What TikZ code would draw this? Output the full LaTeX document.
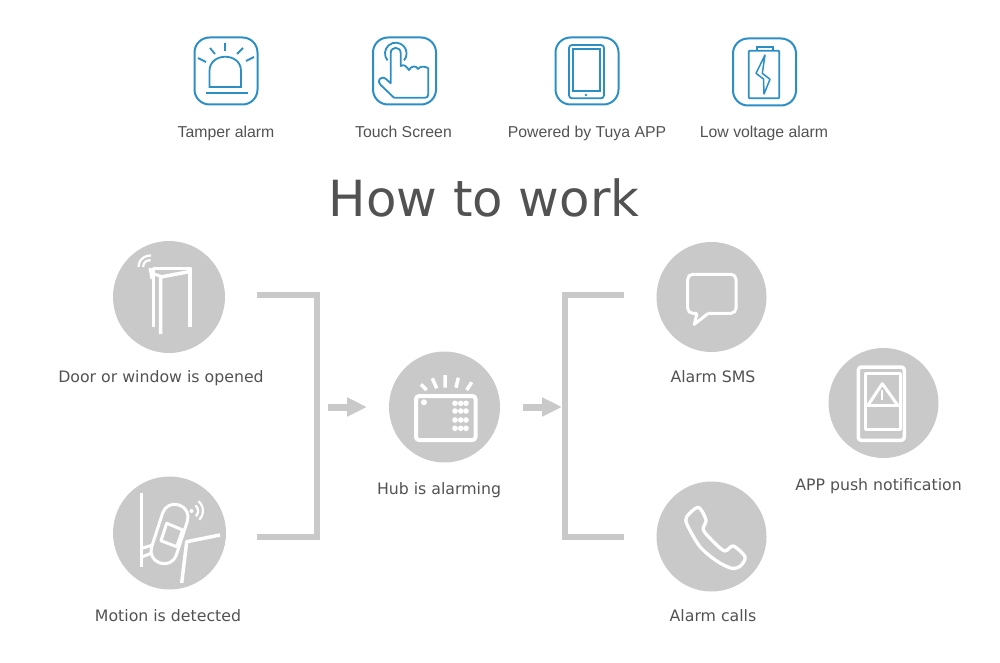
\documentclass[tikz,border=0pt]{standalone}
\usepackage{fontspec}
\setmainfont{Liberation Sans}
\newfontfamily\wideface{DejaVu Sans}
\usetikzlibrary{arrows.meta}
\definecolor{iconblue}{HTML}{2B8FC6}
\definecolor{discgray}{HTML}{C9C9C9}
\definecolor{labelgray}{HTML}{525252}
\tikzset{
  iconbox/.style={draw=iconblue,line width=2pt,rounded corners=15pt,minimum width=63pt,minimum height=67pt,inner sep=0pt},
  blueline/.style={draw=iconblue,line width=1.8pt},
  disc/.style={circle,fill=discgray,minimum size=111pt,inner sep=0pt},
  whiteline/.style={draw=white,line width=3pt,line join=round},
  toplabel/.style={text=labelgray,font=\fontsize{15.8}{18}\selectfont,inner sep=0pt,anchor=base},
  botlabel/.style={text=labelgray,font=\wideface\fontsize{15.75}{18}\selectfont,inner sep=0pt,anchor=base},
  bracket/.style={draw=discgray,line width=6pt,line join=miter},
  blockarrow/.style={draw=discgray,fill=discgray,line width=7pt,-{Triangle[length=20pt,width=18pt]}},
}
\begin{document}
\begin{tikzpicture}[x=1pt,y=-1pt]
  \useasboundingbox (0,0) rectangle (1000,663);

  % Feature icons
  \node[iconbox] (tamper) at (226,71) {};
  \node[iconbox] (touch) at (404.5,71) {};
  \node[iconbox] (tablet) at (587,71) {};
  \node[iconbox] (battery) at (764.5,72) {};
  \node[toplabel] (tamperlabel) at (226,138) {Tamper alarm};
  \node[toplabel] (touchlabel) at (403.5,138) {Touch Screen};
  \node[toplabel] (tabletlabel) at (587,138) {Powered by Tuya APP};
  \node[toplabel] (batterylabel) at (764,138) {Low voltage alarm};

  % Siren
  \draw[blueline] (209.5,87) -- (209.5,71) .. controls (209.5,52) and (241,52) .. (241,71) -- (241,87) -- cycle;
  \draw[blueline] (206,93) -- (248,93);
  \draw[blueline] (225,43) -- (225,51) (210,48) -- (215,54) (243,48) -- (237,54) (198,58) -- (206,62) (254,57) -- (246,61);

  % Hand
  \draw[blueline,line join=round] (400.7,53.3) -- (400.7,66) .. controls (404,64) and (406,66) .. (409,70)
    .. controls (411,66) and (416,65) .. (418,69) .. controls (420,66) and (425,66) .. (428.3,68.3)
    -- (428.3,94) .. controls (428.3,97) and (427,97.7) .. (425,97.7) -- (394,97.7) -- (380.7,85)
    .. controls (376,81) and (381,75) .. (386,79) -- (390.7,83.3) -- (390.7,53.3)
    .. controls (390.7,46) and (400.7,46) .. (400.7,53.3);
  \draw[blueline] (387.5,60.4) arc[start angle=140,end angle=400,radius=10.8];

  % Tablet
  \draw[blueline,rounded corners=3pt] (569,45) rectangle (604,98.3);
  \draw[blueline] (573.3,49) rectangle (600,91);
  \fill[iconblue] (586,95) circle (1.3);

  % Battery
  \draw[blueline,rounded corners=1pt] (748.7,50.7) rectangle (779.3,98.3);
  \draw[blueline] (757.3,50.7) -- (757.3,46.7) -- (772.7,46.7) -- (772.7,50.7);
  \draw[iconblue,line width=1.5pt,line join=round] (765,55) -- (756,73.3) -- (763.5,79) -- (764,94) -- (770,79.3) -- (762.3,73.3) -- cycle;

  % Title
  \node[text=labelgray,font=\wideface\fontsize{49.8}{56}\selectfont,inner sep=0pt] (title) at (484,198) {How to work};

  % Discs and labels
  \node[disc,minimum size=112pt] (door) at (169,297) {};
  \node[disc,minimum size=113pt] (motion) at (169.5,533) {};
  \node[disc] (hub) at (444.5,407) {};
  \node[disc,minimum size=110pt] (sms) at (711.5,297) {};
  \node[disc,minimum size=110pt] (calls) at (711.5,536.5) {};
  \node[disc,minimum size=110pt] (push) at (883.5,403) {};
  \node[botlabel] (doorlabel) at (161,382.5) {Door or window is opened};
  \node[botlabel] (motionlabel) at (168,621.5) {Motion is detected};
  \node[botlabel] (hublabel) at (439,494.5) {Hub is alarming};
  \node[botlabel] (smslabel) at (713,382.5) {Alarm SMS};
  \node[botlabel] (callslabel) at (713,621.5) {Alarm calls};
  \node[botlabel] (pushlabel) at (878.5,490.5) {APP push notification};

  % Brackets and arrows
  \coordinate (intop) at (257,295);
  \coordinate (incorner) at (317,295);
  \coordinate (inlow) at (317,537);
  \coordinate (inbottom) at (257,537);
  \coordinate (outtop) at (624,295);
  \coordinate (outcorner) at (565,295);
  \coordinate (outlow) at (565,537);
  \coordinate (outbottom) at (624,537);
  \draw[bracket] (intop) -- (incorner) -- (inlow) -- (inbottom);
  \draw[bracket] (outtop) -- (outcorner) -- (outlow) -- (outbottom);
  \coordinate (intail) at (328,407);
  \coordinate (inhead) at (367,407);
  \coordinate (outtail) at (523,407);
  \coordinate (outhead) at (562,407);
  \draw[blockarrow] (intail) -- (inhead);
  \draw[blockarrow] (outtail) -- (outhead);

  % Door
  \draw[whiteline,line width=3.5pt] (153.3,326.7) -- (153.3,268.3) -- (190,268.3) -- (190,326.7);
  \draw[whiteline,line width=3.5pt] (160.7,334) -- (160.7,277) -- (190,271.5);
  \draw[whiteline] (150,268) -- (152,279) (154,274) -- (163,277);
  \draw[whiteline,line width=2.2pt] (138.5,267) arc[start angle=180,end angle=275,radius=11.5];
  \draw[whiteline,line width=2.2pt] (143,267) arc[start angle=180,end angle=275,radius=7];

  % Motion sensor
  \draw[whiteline,line width=3.5pt] (141.7,493.3) -- (141.7,566.7);
  \draw[whiteline] (141.7,548.3) -- (153,545) (141.7,557) -- (152,553);
  \draw[whiteline,rotate around={-18:(169.5,534)},rounded corners=12.5pt] (156.5,503.5) rectangle (182.5,564.5);
  \draw[whiteline] (166.7,523.3) -- (182.7,530) -- (176.7,546.7) -- (161,540.7) -- cycle;
  \draw[whiteline,line width=3.5pt] (220,535) -- (186.7,541.7) -- (181.7,583);
  \fill[white] (191.5,511) circle (2);
  \draw[whiteline,line width=2.2pt] (195.5,505.3) arc[start angle=-50,end angle=45,radius=7.5];
  \draw[whiteline,line width=2.2pt] (198.5,501.2) arc[start angle=-50,end angle=45,radius=12.5];

  % Hub
  \draw[whiteline,line width=4pt,rounded corners=3pt] (416,396) rectangle (475.5,440);
  \fill[white] (424,402.3) circle (3);
  \foreach \col in {455,460.7,466} {
    \foreach \row in {403.3,411,420,428.3} {
      \fill[white] (\col,\row) circle (2.8);
    }
  }
  \draw[whiteline,line width=3.5pt] (445,375) -- (445,387.7) (432.3,378.3) -- (436.7,388.3) (458.3,377.7) -- (456,387.7) (421,384.3) -- (426.7,390) (471.7,382.3) -- (466.7,390);

  % SMS bubble
  \draw[whiteline,rounded corners=5pt] (708.3,313.3) -- (736,313.3) -- (736,274.3) -- (687.7,274.3) -- (687.7,313.3) -- (697,313.3);
  \draw[whiteline] (697,313.3) -- (694.3,324.3) -- (708.3,313.3);

  % Handset
  \draw[whiteline,line width=3.3pt] plot[smooth cycle] coordinates {(698.3,507.3) (686.7,516.7) (687.3,525) (700,546.7) (716.7,561) (731.7,568.3) (740.7,565.7) (745,556.7) (733.3,546) (725,551) (715,543.3) (703.3,530) (706,520)};

  % Phone with warning
  \draw[whiteline,line width=3.5pt,rounded corners=3pt] (858.3,367) rectangle (904.3,440.3);
  \draw[whiteline] (865,373.7) rectangle (900,429.3);
  \draw[whiteline] (865,405.3) -- (900,405.3);
  \draw[whiteline] (868.3,404.7) -- (882.3,383.7) -- (897.3,404.7);
  \draw[whiteline,line width=2pt] (882.3,390.3) -- (882.3,400.3);
\end{tikzpicture}
\end{document}
